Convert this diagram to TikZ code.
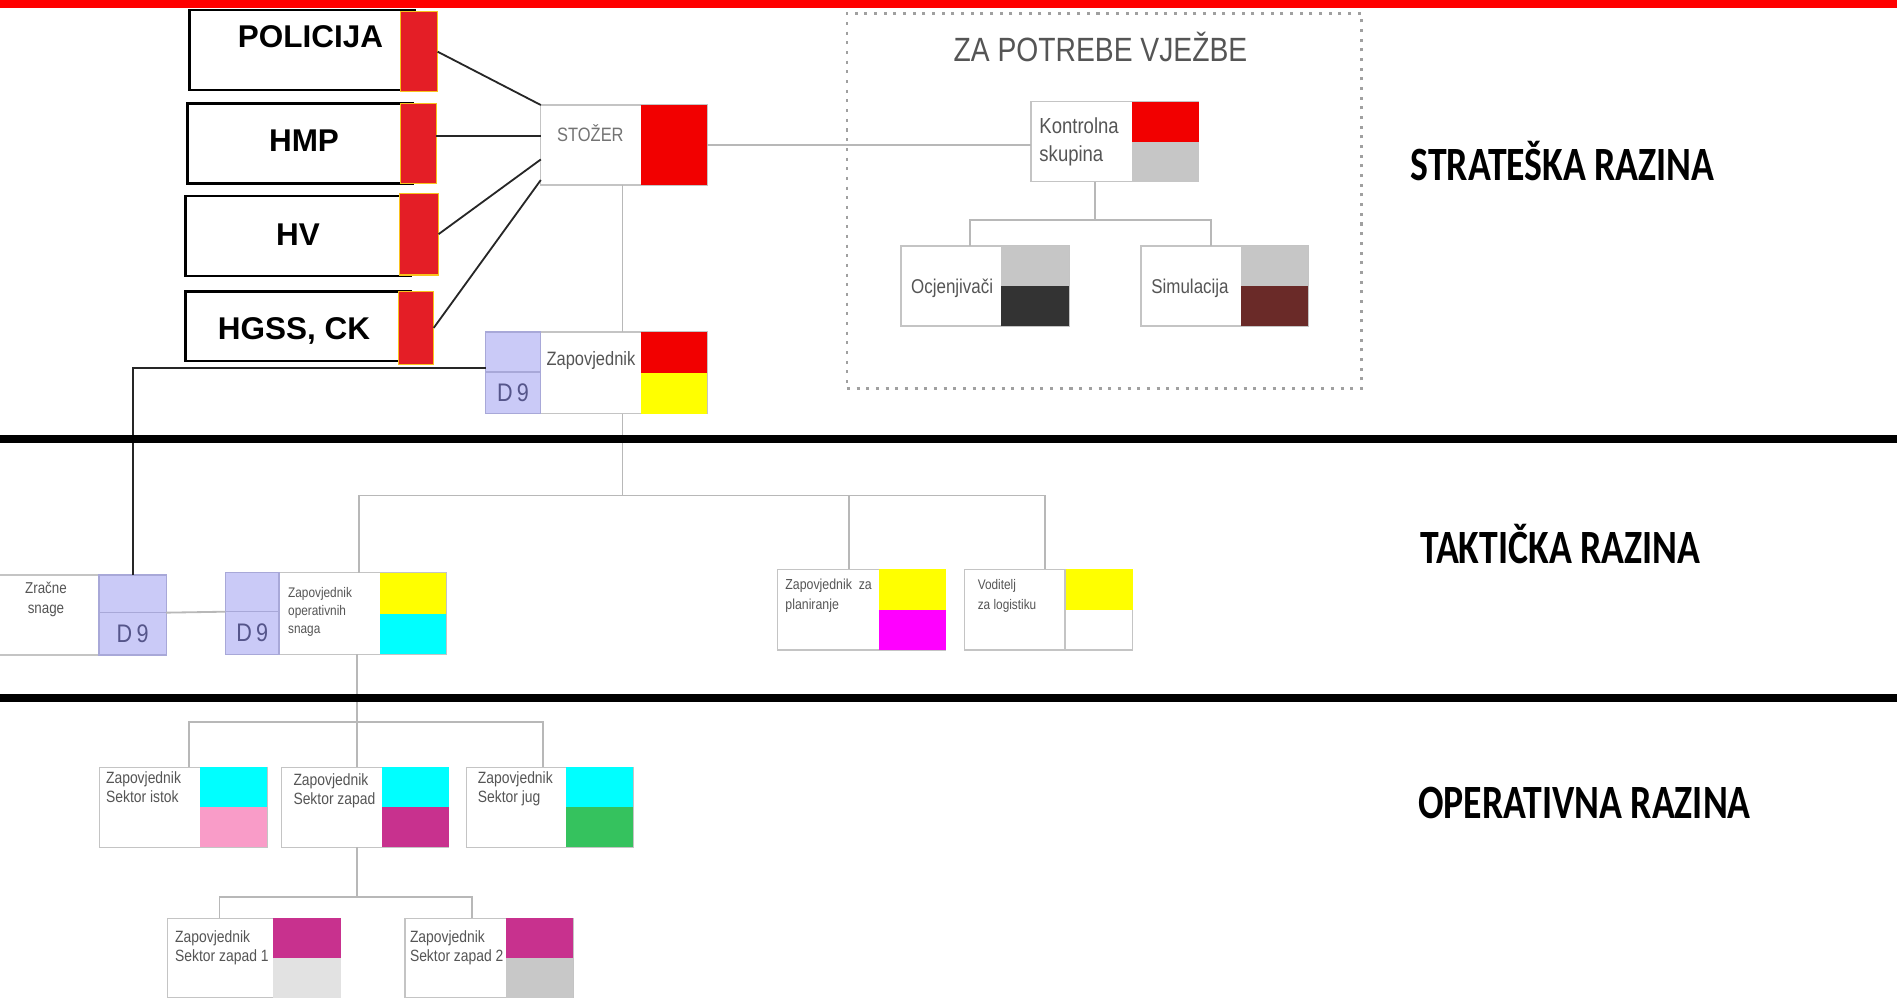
\documentclass[tikz,border=0pt]{standalone}
\usepackage{fontspec}
\setmainfont{Liberation Sans}
\newfontfamily\condfont[FakeStretch=0.85]{Liberation Sans}
\newfontfamily\titlefont[FakeStretch=0.84]{Liberation Sans}
\newfontfamily\lvlfont[FakeStretch=0.79]{Carlito}
\definecolor{topred}{HTML}{FF0000}
\definecolor{stred}{HTML}{F20000}
\definecolor{agred}{HTML}{E41E26}
\definecolor{agborder}{HTML}{F8C21C}
\definecolor{grayA}{HTML}{C6C6C6}
\definecolor{darkgr}{HTML}{333333}
\definecolor{brownB}{HTML}{6A2A28}
\definecolor{yel}{HTML}{FFFF00}
\definecolor{cya}{HTML}{00FFFF}
\definecolor{mag}{HTML}{FF00FF}
\definecolor{pinkP}{HTML}{F99CC8}
\definecolor{zmag}{HTML}{C8318E}
\definecolor{greenG}{HTML}{35C25E}
\definecolor{lgrayA}{HTML}{E2E2E2}
\definecolor{grayB}{HTML}{C8C8C8}
\definecolor{lav}{HTML}{CACAF7}
\definecolor{lavborder}{HTML}{A8A8D8}
\definecolor{boxgray}{HTML}{C4C4C4}
\definecolor{conngray}{HTML}{B8B8B8}
\definecolor{txtgray}{HTML}{555555}
\definecolor{dtext}{HTML}{55558A}
\definecolor{dotgray}{HTML}{A0A0A0}
\tikzset{
  unitbox/.style={draw=boxgray, line width=1.1pt, fill=white, inner sep=0pt, outer sep=0pt, anchor=north west},
  lavbox/.style={draw=lavborder, line width=1pt, fill=lav, inner sep=0pt, outer sep=0pt, anchor=north west},
  agency/.style={draw=black, line width=2.2pt, fill=white, inner sep=0pt, outer sep=0pt, anchor=north west},
  redblk/.style={draw=agborder, line width=1pt, fill=agred, inner sep=0pt, outer sep=0pt, anchor=north west},
  agtext/.style={font=\bfseries\fontsize{26}{30}\selectfont, text=black, inner sep=0pt, anchor=base},
  conn/.style={draw=conngray, line width=1.5pt},
  blk/.style={draw=black!85, line width=1.5pt},
  levelline/.style={draw=black, line width=6.5pt},
  smalltext/.style={text=txtgray, inner sep=0pt, align=left, anchor=north west},
  dnine/.style={font=\condfont\fontsize{21}{24}\selectfont, text=dtext, inner sep=0pt},
  lvltext/.style={font=\lvlfont\bfseries\fontsize{39.5}{44}\selectfont, text=black, inner sep=0pt, anchor=base west},
}
\newcommand{\orgunit}[8]{%
  \node[unitbox, minimum width=#4pt, minimum height=#5pt] (#1) at (#2,#3) {};
  \fill[#7] (#1.north east) rectangle ([xshift=-#6pt]#1.east);
  \fill[#8] (#1.east) rectangle ([xshift=-#6pt]#1.south east);
}
\begin{document}
\begin{tikzpicture}[x=1pt,y=-1pt]
\useasboundingbox (0,0) rectangle (1568,825);
\clip (0,0) rectangle (1568,825);
\fill[white] (0,0) rectangle (1568,825);

% top red bar
\fill[topred] (0,0) rectangle (1568,6.5);

% ---------- dotted exercise box ----------
\node[draw=dotgray, line width=2pt, dash pattern=on 2.5pt off 5.5pt, inner sep=0pt, outer sep=0pt,
      minimum width=425.4pt, minimum height=310pt, anchor=north west] (vjezbe) at (700,11) {};
\node[font=\titlefont\fontsize{27.8}{30}\selectfont, text=txtgray, inner sep=0pt, anchor=base] (vjezbe-t) at (909.6,51) {ZA POTREBE VJEŽBE};

% ---------- agencies ----------
\node[agency, minimum width=186pt, minimum height=66pt] (poli) at (156.4,8.4) {};
\node[redblk, minimum width=30.4pt, minimum height=66.2pt] (poliR) at (331.3,9.6) {};
\node[agtext] (poli-t) at (256.6,39) {POLICIJA};

\node[agency, minimum width=186pt, minimum height=66pt] (hmp) at (155,85.4) {};
\node[redblk, minimum width=29.5pt, minimum height=66.1pt] (hmpR) at (331,85.4) {};
\node[agtext] (hmp-t) at (251.3,125) {HMP};

\node[agency, minimum width=186pt, minimum height=66pt] (hv) at (153.3,162) {};
\node[redblk, minimum width=32.5pt, minimum height=67.5pt] (hvR) at (330,159.8) {};
\node[agtext] (hv-t) at (246.3,203.3) {HV};

\node[agency, minimum width=186pt, minimum height=57.4pt] (hg) at (153.3,241) {};
\node[redblk, minimum width=29pt, minimum height=60pt] (hgR) at (329.5,241) {};
\node[agtext] (hg-t) at (243,280.3) {HGSS, CK};

% ---------- strategic units ----------
\orgunit{stozer}{447}{86.8}{137.5}{66.1}{55}{stred}{stred}
\node[font=\condfont\fontsize{16}{18}\selectfont, text=black!55, inner sep=0pt, anchor=base] (stozer-t) at (488,117) {STOŽER};

\orgunit{kont}{852.3}{84}{138.4}{66.2}{55.3}{stred}{grayA}
\node[smalltext, font=\condfont\fontsize{18}{23}\selectfont] (kont-t) at (859,96.9) {Kontrolna\\skupina};

\orgunit{ocj}{744.6}{203.3}{139.2}{66.2}{56.2}{grayA}{darkgr}
\node[font=\condfont\fontsize{16.5}{20}\selectfont, text=txtgray, inner sep=0pt, anchor=base] (ocj-t) at (787,243) {Ocjenjivači};

\orgunit{sim}{943}{203.3}{138.5}{66.2}{55.5}{grayA}{brownB}
\node[font=\condfont\fontsize{16.5}{20}\selectfont, text=txtgray, inner sep=0pt, anchor=base] (sim-t) at (983.6,243) {Simulacija};

\orgunit{zap}{401.5}{274.5}{183}{67.5}{55}{stred}{yel}
\node[lavbox, minimum width=45pt, minimum height=33pt] (zapL) at (401.5,274.5) {};
\node[lavbox, minimum width=45pt, minimum height=34.5pt] (zapD) at (401.5,307.5) {};
\node[dnine] (zapD-t) at (zapD.center) {D\,9};
\node[font=\condfont\fontsize{16}{18}\selectfont, text=txtgray, inner sep=0pt, anchor=base west] (zap-t) at (451.6,302) {Zapovjednik};

% ---------- tactical units ----------
\orgunit{zr}{-3}{475.3}{140.3}{66.1}{55.4}{white}{white}
\node[lavbox, minimum width=55.4pt, minimum height=31.1pt] (zrL) at (81.9,475.3) {};
\node[lavbox, minimum width=55.4pt, minimum height=35pt] (zrD) at (81.9,506.4) {};
\node[dnine] (zrD-t) at (zrD.center) {D\,9};
\node[smalltext, align=center, anchor=north, font=\condfont\fontsize{13}{16.5}\selectfont] (zr-t) at (38,481) {Zračne\\snage};

\orgunit{zos}{186.3}{473.4}{182.7}{67.5}{55.3}{yel}{cya}
\node[lavbox, minimum width=44.3pt, minimum height=32.2pt] (zosL) at (186.3,473.4) {};
\node[lavbox, minimum width=44.3pt, minimum height=35.3pt] (zosD) at (186.3,505.6) {};
\node[dnine] (zosD-t) at (zosD.center) {D\,9};
\node[smalltext, font=\condfont\fontsize{11.5}{14.8}\selectfont] (zos-t) at (238,485.6) {Zapovjednik\\operativnih\\snaga};

\orgunit{plan}{642.5}{470.6}{139.2}{66.7}{55.1}{yel}{mag}
\node[smalltext, font=\condfont\fontsize{12}{16.5}\selectfont] (plan-t) at (649,478.7) {Zapovjednik\ \ za\\planiranje};

\orgunit{vod}{797}{470.6}{139.2}{66.7}{55.9}{yel}{white}
\draw[draw=boxgray, line width=1.1pt] ([xshift=-55.9pt]vod.east) -- ([xshift=-55.9pt]vod.south east) -- (vod.south east) -- (vod.east);
\draw[draw=boxgray, line width=1.1pt] ([xshift=-55.9pt]vod.north east) -- ([xshift=-55.9pt]vod.east);
\node[smalltext, font=\condfont\fontsize{11.5}{16.5}\selectfont] (vod-t) at (808,479.1) {Voditelj\\za logistiku};

% ---------- operative units ----------
\orgunit{istok}{82}{634.3}{138.7}{66.1}{55.7}{cya}{pinkP}
\node[smalltext, font=\condfont\fontsize{13.5}{15.5}\selectfont] (istok-t) at (87.5,637.6) {Zapovjednik\\Sektor istok};

\orgunit{zapad}{232.5}{634.3}{138.4}{66.1}{55.4}{cya}{zmag}
\node[smalltext, font=\condfont\fontsize{13.5}{15.5}\selectfont] (zapad-t) at (242.4,639.1) {Zapovjednik\\Sektor zapad};

\orgunit{jug}{385.6}{634.3}{137.7}{66.1}{55.3}{cya}{greenG}
\node[smalltext, font=\condfont\fontsize{13.5}{15.5}\selectfont] (jug-t) at (394.8,637.6) {Zapovjednik\\Sektor jug};

\orgunit{zw1}{138.4}{759}{143.2}{65.5}{55.8}{zmag}{lgrayA}
\node[smalltext, font=\condfont\fontsize{13.5}{15.5}\selectfont] (zw1-t) at (144.6,769.1) {Zapovjednik\\Sektor zapad 1};

\orgunit{zw2}{334.7}{759}{138.8}{65.5}{55.5}{zmag}{grayB}
\node[smalltext, font=\condfont\fontsize{13.5}{15.5}\selectfont] (zw2-t) at (338.7,769.1) {Zapovjednik\\Sektor zapad 2};

% ---------- connectors ----------
\coordinate (hmpline) at ([yshift=6pt]hmpR.east);
\draw[blk] (poliR.east) -- (stozer.north west);
\draw[blk] (hmpline) -- (hmpline -| stozer.west);
\draw[blk] (hvR.east) -- ([yshift=-45pt]stozer.north west);
\draw[blk] (hgR.east) -- ([yshift=-62pt]stozer.north west);

\draw[conn] (stozer.east) -- (stozer.east -| kont.west);

\coordinate (kbar) at (905,181.9);
\coordinate (kb1) at (801.8,181.9);
\coordinate (kb2) at (1001,181.9);
\draw[conn] (kbar |- kont.south) -- (kbar);
\draw[conn] (kb1 |- ocj.north) -- (kb1) -- (kb2) -- (kb2 |- sim.north);

\coordinate (spine) at (514.5,409.5);
\draw[conn] (stozer.south -| spine) -- (zap.north -| spine);
\draw[conn] (zap.south -| spine) -- (spine);

\coordinate (tb1) at (297,409.5);
\coordinate (tb2) at (701.8,409.5);
\coordinate (tb3) at (863.8,409.5);
\draw[conn] (tb1 |- zos.north) -- (tb1) -- (tb3) -- (tb3 |- vod.north);
\draw[conn] (tb2) -- (tb2 |- plan.north);

\draw[conn] (zrL.south east) -- (zosL.south west);

\coordinate (zapout) at ([yshift=3pt]zapL.south west);
\draw[blk] (zapout) -| (zrL.north);

\coordinate (ospine) at (295,596.5);
\coordinate (ob1) at (156,596.5);
\coordinate (ob2) at (449,596.5);
\draw[conn] (zos.south -| ospine) -- (ospine |- zapad.north);
\draw[conn] (ob1 |- istok.north) -- (ob1) -- (ob2) -- (ob2 |- jug.north);

\coordinate (lb1) at (181.5,741.7);
\coordinate (lb2) at (390.4,741.7);
\draw[conn] (zapad.south -| ospine) -- (ospine |- lb1);
\draw[conn] (lb1 |- zw1.north) -- (lb1) -- (lb2) -- (lb2 |- zw2.north);

% ---------- level separators ----------
\draw[levelline] (0,362.6) -- (1568,362.6);
\draw[levelline] (0,577) -- (1568,577);

% ---------- level labels ----------
\node[lvltext] (lvl1) at (1165.8,149) {STRATEŠKA RAZINA};
\node[lvltext] (lvl2) at (1173.8,466) {TAKTIČKA RAZINA};
\node[lvltext] (lvl3) at (1172,676.5) {OPERATIVNA RAZINA};
\end{tikzpicture}
\end{document}
